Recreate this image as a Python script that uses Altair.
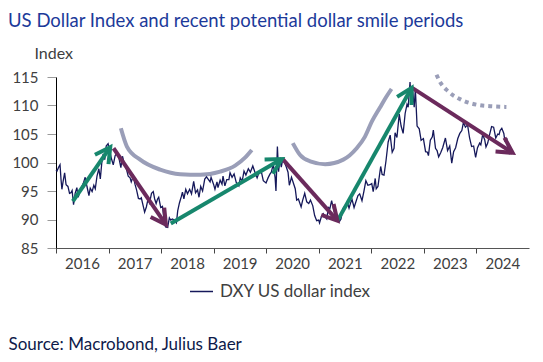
import math
import altair as alt
import pandas as pd

# ---------------- data ----------------
dxy_dates = [
    "2016-01-01", "2016-01-08", "2016-01-20", "2016-01-29", "2016-02-05", "2016-02-11", "2016-02-19",
    "2016-03-01", "2016-03-11", "2016-03-24", "2016-04-04", "2016-04-14", "2016-04-22", "2016-05-02",
    "2016-05-13", "2016-05-25", "2016-06-03", "2016-06-15", "2016-06-24", "2016-07-08", "2016-07-22",
    "2016-08-04", "2016-08-17", "2016-08-26", "2016-09-08", "2016-09-20", "2016-09-30", "2016-10-12",
    "2016-10-25", "2016-11-04", "2016-11-14", "2016-11-24", "2016-12-05", "2016-12-15", "2016-12-28",
    "2017-01-10", "2017-01-20", "2017-02-02", "2017-02-15", "2017-03-01", "2017-03-15", "2017-03-27",
    "2017-04-07", "2017-04-20", "2017-05-02", "2017-05-17", "2017-05-30", "2017-06-07", "2017-06-21",
    "2017-07-03", "2017-07-14", "2017-07-27", "2017-08-08", "2017-08-16", "2017-08-29", "2017-09-08",
    "2017-09-20", "2017-10-02", "2017-10-12", "2017-10-26", "2017-11-07", "2017-11-17", "2017-11-27",
    "2017-12-07", "2017-12-15", "2017-12-29",
    "2018-01-10", "2018-01-25", "2018-02-01", "2018-02-15", "2018-02-27", "2018-03-08", "2018-03-20",
    "2018-04-02", "2018-04-17", "2018-04-26", "2018-05-08", "2018-05-21", "2018-05-29", "2018-06-08",
    "2018-06-21", "2018-07-03", "2018-07-18", "2018-07-31", "2018-08-15", "2018-08-28", "2018-09-11",
    "2018-09-21", "2018-10-03", "2018-10-16", "2018-10-31", "2018-11-12", "2018-11-26", "2018-12-07",
    "2018-12-14", "2018-12-31",
    "2019-01-10", "2019-01-24", "2019-01-31", "2019-02-15", "2019-02-28", "2019-03-07", "2019-03-20",
    "2019-04-02", "2019-04-17", "2019-04-25", "2019-05-09", "2019-05-23", "2019-06-07", "2019-06-25",
    "2019-07-05", "2019-07-18", "2019-07-31", "2019-08-13", "2019-08-30", "2019-09-13", "2019-09-30",
    "2019-10-15", "2019-10-30", "2019-11-13", "2019-11-29", "2019-12-12", "2019-12-31",
    "2020-01-14", "2020-01-28", "2020-02-06", "2020-02-19", "2020-03-03", "2020-03-09", "2020-03-19",
    "2020-03-27", "2020-04-06", "2020-04-15", "2020-04-24", "2020-05-06", "2020-05-20", "2020-06-01",
    "2020-06-10", "2020-06-25", "2020-07-08", "2020-07-21", "2020-07-31", "2020-08-12", "2020-08-31",
    "2020-09-10", "2020-09-25", "2020-10-09", "2020-10-23", "2020-11-04", "2020-11-20", "2020-12-03",
    "2020-12-17", "2020-12-31",
    "2021-01-06", "2021-01-19", "2021-02-01", "2021-02-12", "2021-02-25", "2021-03-09", "2021-03-19",
    "2021-03-31", "2021-04-14", "2021-04-29", "2021-05-11", "2021-05-25", "2021-06-04", "2021-06-17",
    "2021-07-07", "2021-07-20", "2021-07-30", "2021-08-11", "2021-08-20", "2021-09-03", "2021-09-17",
    "2021-09-30", "2021-10-12", "2021-10-28", "2021-11-10", "2021-11-24", "2021-12-08", "2021-12-22",
    "2022-01-04", "2022-01-14", "2022-01-28", "2022-02-04", "2022-02-16", "2022-03-07", "2022-03-17",
    "2022-03-30", "2022-04-13", "2022-04-28", "2022-05-12", "2022-05-26", "2022-06-08", "2022-06-15",
    "2022-06-28", "2022-07-14", "2022-07-27", "2022-08-10", "2022-08-24", "2022-09-06", "2022-09-14",
    "2022-09-27", "2022-10-04", "2022-10-13", "2022-10-26", "2022-11-03", "2022-11-15", "2022-11-30",
    "2022-12-13", "2022-12-29",
    "2023-01-13", "2023-01-26", "2023-02-02", "2023-02-15", "2023-03-01", "2023-03-08", "2023-03-23",
    "2023-04-03", "2023-04-14", "2023-04-28", "2023-05-12", "2023-05-31", "2023-06-15", "2023-06-30",
    "2023-07-14", "2023-07-27", "2023-08-10", "2023-08-25", "2023-09-08", "2023-09-22", "2023-10-03",
    "2023-10-17", "2023-11-01", "2023-11-15", "2023-11-29", "2023-12-13", "2023-12-27",
    "2024-01-09", "2024-01-24", "2024-02-01", "2024-02-14", "2024-02-28", "2024-03-08", "2024-03-20",
    "2024-04-02", "2024-04-16", "2024-04-30", "2024-05-15", "2024-05-29", "2024-06-07", "2024-06-14",
    "2024-06-26", "2024-07-10", "2024-07-17", "2024-07-31", "2024-08-05", "2024-08-14", "2024-08-21",
]
dxy_values = [
    98.7, 98.5, 99.2, 99.6, 97.0, 95.3, 96.6,
    98.2, 96.1, 95.8, 94.6, 94.7, 95.1, 92.6,
    94.6, 95.6, 93.9, 94.9, 95.5, 96.3, 97.4,
    95.7, 94.2, 95.5, 94.9, 96.0, 95.4, 97.6,
    98.9, 97.1, 99.9, 101.5, 100.5, 102.9, 103.3,
    101.9, 100.7, 99.6, 101.2, 101.7, 100.6, 99.1,
    101.1, 99.8, 99.1, 97.6, 97.3, 96.6, 97.6,
    96.2, 95.2, 93.7, 93.6, 93.8, 92.4, 91.3,
    92.2, 93.6, 92.9, 94.6, 94.9, 93.6, 92.8,
    93.6, 93.9, 92.1,
    92.3, 89.2, 88.7, 88.6, 90.3, 89.9, 90.1,
    89.9, 89.4, 91.5, 92.9, 94.0, 94.8, 93.6,
    95.3, 94.5, 95.3, 94.5, 96.7, 94.7, 95.2,
    93.9, 95.8, 95.0, 97.1, 97.5, 97.0, 96.6,
    97.4, 96.2,
    95.3, 96.6, 95.6, 96.9, 96.2, 97.6, 95.9,
    97.0, 97.0, 98.2, 97.4, 98.0, 96.5, 95.9,
    97.3, 96.7, 98.5, 97.8, 98.9, 98.3, 99.4,
    98.3, 97.3, 98.3, 98.3, 96.8, 96.4,
    97.3, 98.0, 98.3, 99.7, 97.4, 95.0, 102.8,
    98.4, 100.6, 99.2, 100.4, 100.1, 99.2, 98.3,
    96.0, 97.4, 96.4, 95.4, 93.4, 93.6, 92.2,
    93.3, 94.6, 93.1, 92.8, 93.4, 92.4, 90.7,
    89.8, 89.9,
    89.4, 90.5, 91.0, 90.5, 90.1, 92.1, 91.9,
    93.3, 91.7, 90.6, 90.2, 89.7, 90.1, 91.9,
    92.6, 92.9, 92.0, 93.0, 93.5, 92.1, 93.2,
    94.2, 94.5, 93.3, 94.9, 96.8, 96.0, 96.1,
    96.3, 94.9, 97.2, 95.4, 95.8, 99.3, 97.9,
    97.8, 100.3, 103.6, 104.8, 101.8, 102.5, 105.2,
    104.4, 108.5, 106.4, 105.1, 108.6, 110.2, 109.7,
    114.1, 110.9, 113.3, 109.7, 112.9, 106.4, 105.9,
    103.9, 104.2,
    101.9, 101.8, 101.2, 103.9, 104.5, 105.7, 102.5,
    102.1, 101.0, 101.7, 102.6, 104.3, 102.1, 102.9,
    99.9, 101.9, 102.6, 104.2, 105.1, 105.6, 107.0,
    106.2, 106.6, 104.3, 102.8, 102.9, 100.9,
    102.6, 103.4, 103.1, 104.9, 104.0, 102.7, 103.4,
    104.9, 106.3, 106.2, 104.3, 105.0, 104.9, 105.6,
    106.0, 105.1, 103.8, 104.1, 102.7, 102.6, 101.4,
]
series_name = "DXY US dollar index"

arrow_kind = ["up", "down", "up", "down", "up", "down"]
arrow_start_dates = ["2016-04-27", "2017-02-04", "2018-03-09", "2020-04-25", "2021-05-11", "2022-10-12"]
arrow_start_values = [93.2, 102.5, 89.3, 100.6, 89.8, 113.1]
arrow_end_dates = ["2017-01-12", "2018-02-03", "2020-04-18", "2021-05-10", "2022-10-08", "2024-09-09"]
arrow_end_values = [102.7, 89.1, 100.6, 89.8, 113.1, 101.7]

smile1_dates = ["2017-03-27", "2017-05-08", "2017-08-08", "2017-12-25", "2018-05-13",
                "2018-09-29", "2019-02-15", "2019-05-30", "2019-08-07", "2019-09-23"]
smile1_values = [106.0, 102.8, 100.5, 98.75, 97.95, 97.85, 98.4, 99.45, 100.85, 102.2]

smile2_dates = ["2020-07-04", "2020-08-24", "2020-11-02", "2021-02-14", "2021-06-20",
                "2021-09-21", "2021-11-17", "2022-01-05", "2022-03-01", "2022-04-12", "2022-05-21"]
smile2_values = [103.4, 101.3, 100.2, 99.7, 100.5, 102.5, 104.5, 107.2, 109.6, 111.4, 112.9]

smile3_dates = ["2023-03-30", "2023-04-22", "2023-06-18", "2023-09-19", "2024-01-02", "2024-04-26", "2024-07-28"]
smile3_values = [115.4, 114.2, 112.5, 111.0, 110.15, 109.85, 109.75]

year_ticks = [2016, 2017, 2018, 2019, 2020, 2021, 2022, 2023, 2024]
y_ticks = [85, 90, 95, 100, 105, 110, 115]

title_text = "US Dollar Index and recent potential dollar smile periods"
y_title = "Index"
source_text = "Source: Macrobond, Julius Baer"

# ---------------- styles ----------------
W, H = 473, 171
X_FIRST, X_LAST = 2016, 2025
Y_MIN, Y_MAX = 85, 115
FONT = "Lato"
NAVY = "#15185a"
TITLE_BLUE = "#1c3a9a"
GREEN = "#17876d"
PURPLE = "#6b2a5c"
SMILE = "#9a9eb8"
TEXT = "#404040"
arrow_colors = {"up": GREEN, "down": PURPLE}

# ---------------- tables ----------------
dxy = pd.DataFrame({"date": pd.to_datetime(dxy_dates), "value": dxy_values, "series": series_name})

t0 = pd.Timestamp(f"{X_FIRST}-01-01")
t1 = pd.Timestamp(f"{X_LAST}-01-01")


def px_x(ts):
    return (pd.Timestamp(ts) - t0) / (t1 - t0) * W


def px_y(v):
    return (Y_MAX - v) / (Y_MAX - Y_MIN) * H


angles = []
for sd, sv, ed, ev in zip(arrow_start_dates, arrow_start_values, arrow_end_dates, arrow_end_values):
    dx = px_x(ed) - px_x(sd)
    dy = px_y(ev) - px_y(sv)
    angles.append(math.degrees(math.atan2(dx, -dy)) % 360)

arrows = pd.DataFrame({
    "kind": arrow_kind,
    "start": pd.to_datetime(arrow_start_dates),
    "v0": arrow_start_values,
    "end": pd.to_datetime(arrow_end_dates),
    "v1": arrow_end_values,
    "angle": angles,
})

smiles = pd.concat([
    pd.DataFrame({"date": pd.to_datetime(smile1_dates), "value": smile1_values, "arc": "a"}),
    pd.DataFrame({"date": pd.to_datetime(smile2_dates), "value": smile2_values, "arc": "b"}),
])
smile_dotted = pd.DataFrame({"date": pd.to_datetime(smile3_dates), "value": smile3_values, "arc": "c"})

# ---------------- scales / axes ----------------
x_scale = alt.Scale(domain=[alt.DateTime(year=X_FIRST, month=1, date=1),
                            alt.DateTime(year=X_LAST, month=1, date=1)])
y_scale = alt.Scale(domain=[Y_MIN, Y_MAX], nice=False, zero=False)

x_axis = alt.Axis(
    values=[alt.DateTime(year=y, month=1, date=1) for y in year_ticks],
    format="%Y", labelOffset=26, labelOverlap=False, labelBound=False, labelFlush=False,
    grid=False, domainColor="#555555", domainWidth=1, tickColor="#444444", tickSize=5,
    labelFont=FONT, labelFontSize=15, labelColor=TEXT, labelPadding=3,
    title=source_text, titleFont=FONT, titleFontSize=17, titleFontWeight="normal",
    titleColor="#0e1a4a", titleAnchor="start", titleAlign="left", titleBaseline="middle",
    titleX=-48, titleY=96,
)
y_axis = alt.Axis(
    values=y_ticks, grid=False, domainColor="#000000", domainWidth=1,
    tickColor="#9a9a9a", tickSize=9, tickWidth=1,
    labelFont=FONT, labelFontSize=15, labelColor=TEXT, labelPadding=9,
    title=y_title, titleFont=FONT, titleFontSize=16, titleFontWeight="normal", titleColor=TEXT,
    titleAngle=0, titleAlign="left", titleBaseline="middle", titleX=-22, titleY=-24,
)


def X(field):
    return alt.X(f"{field}:T", scale=x_scale, axis=x_axis)


def Y(field):
    return alt.Y(f"{field}:Q", scale=y_scale, axis=y_axis)


# ---------------- layers ----------------
smile_layer = alt.Chart(smiles).mark_line(
    interpolate="monotone", strokeWidth=4, color=SMILE, strokeCap="butt"
).encode(x=X("date"), y=Y("value"), detail="arc:N")

dotted_layer = alt.Chart(smile_dotted).mark_line(
    interpolate="monotone", strokeWidth=4, color=SMILE, strokeDash=[4, 4], strokeCap="butt"
).encode(x=X("date"), y=Y("value"), detail="arc:N")

line_layer = alt.Chart(dxy).mark_line(strokeWidth=1.3).encode(
    x=X("date"), y=Y("value"),
    color=alt.Color("series:N", scale=alt.Scale(range=[NAVY]),
                    legend=alt.Legend(orient="none", legendX=133, legendY=202, title=None,
                                      symbolType="stroke", symbolSize=529, symbolStrokeWidth=1.5,
                                      labelFont=FONT, labelFontSize=17, labelColor=TEXT,
                                      labelOffset=6, padding=0)),
)

stroke_enc = alt.Stroke("kind:N", scale=alt.Scale(domain=list(arrow_colors.keys()),
                                                  range=list(arrow_colors.values())), legend=None)

shaft_layer = alt.Chart(arrows).mark_rule(strokeWidth=4, strokeCap="butt").encode(
    x=X("start"), y=Y("v0"), x2="end:T", y2="v1:Q", stroke=stroke_enc)

head_layer = alt.Chart(arrows).mark_point(
    shape="M-0.55,1L0,0L0.55,1", filled=False, size=900, strokeWidth=4, opacity=1,
    strokeJoin="miter", strokeCap="butt",
).encode(x=X("end"), y=Y("v1"), angle=alt.Angle("angle:Q", scale=None), stroke=stroke_enc)

chart = alt.layer(smile_layer, dotted_layer, line_layer, shaft_layer, head_layer).properties(
    width=W, height=H,
    title=alt.TitleParams(title_text, anchor="start", frame="group", dx=-48, font=FONT,
                          fontSize=18.5, fontWeight="normal", color=TITLE_BLUE, offset=15),
    padding={"left": 48, "top": 69, "right": 4, "bottom": 108},
    autosize=alt.AutoSizeParams(type="none"),
).configure_view(stroke=None)

chart.save("out.html", embed_options={"renderer": "svg", "actions": False})
